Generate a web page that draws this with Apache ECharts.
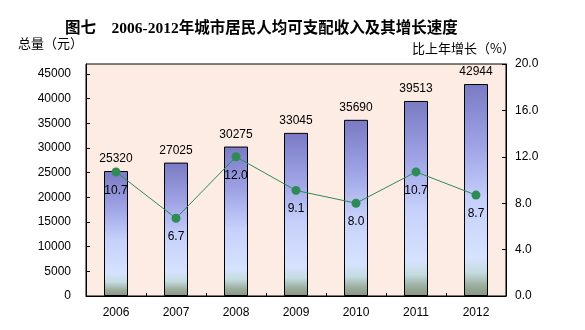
<!DOCTYPE html>
<html>
<head>
<meta charset="utf-8">
<style>
  html, body { margin: 0; padding: 0; background: #ffffff; }
  #chart { width: 585px; height: 330px; }
</style>
<script src="https://cdn.jsdelivr.net/npm/echarts@6/dist/echarts.min.js"></script>
</head>
<body>
<div id="chart"></div>
<script>
// Per-capita disposable income of urban residents, 2006-2012
const years = ['2006', '2007', '2008', '2009', '2010', '2011', '2012'];
const income = [25320, 27025, 30275, 33045, 35690, 39513, 42944];
const growth = [10.7, 6.7, 12.0, 9.1, 8.0, 10.7, 8.7];
const leftTicks = { min: 0, max: 47000, interval: 5000 };
const rightTicks = { min: 0, max: 20, interval: 4 };

const latin = '"Liberation Sans", Arial, "Noto Sans CJK SC", sans-serif';
const cjk = '"Noto Sans CJK SC", "Liberation Sans", sans-serif';

const chart = echarts.init(document.getElementById('chart'), null, { renderer: 'canvas' });

const barFill = new echarts.graphic.LinearGradient(0, 0, 0, 1, [
  { offset: 0.00, color: '#7a7ac4' },
  { offset: 0.30, color: '#a0a4e6' },
  { offset: 0.55, color: '#c6d0fa' },
  { offset: 0.82, color: '#d6e2ff' },
  { offset: 0.89, color: '#c4dce0' },
  { offset: 0.95, color: '#9cae9e' },
  { offset: 1.00, color: '#869682' }
]);

chart.setOption({
  animation: false,
  backgroundColor: '#ffffff',
  title: {
    text: '图七　2006-2012年城市居民人均可支配收入及其增长速度',
    left: 60,
    top: 16,
    textStyle: {
      fontFamily: '"Liberation Serif", "Noto Sans CJK SC", serif',
      fontWeight: 'bold',
      fontSize: 15.5,
      color: '#000000'
    }
  },
  graphic: [
    {
      type: 'text', left: 18, top: 37,
      style: { text: '总量（元）', font: '13px ' + cjk, fill: '#000000' }
    },
    {
      type: 'text', left: 412, top: 42,
      style: { text: '比上年增长（%）', font: '13px ' + cjk, fill: '#000000' }
    }
  ],
  grid: {
    left: 86, right: 79, top: 64, height: 232,
    show: true,
    backgroundColor: '#fdece3',
    borderColor: '#000000',
    borderWidth: 1,
    containLabel: false
  },
  xAxis: [
    {
      type: 'category',
      data: years,
      boundaryGap: true,
      axisLine: { show: true, lineStyle: { color: '#000000', width: 1 } },
      axisTick: { show: true, inside: true, length: 3, lineStyle: { color: '#000000' } },
      axisLabel: { color: '#000000', fontFamily: latin, fontSize: 12, margin: 11 },
      splitLine: { show: false }
    },
    {
      // centre ticks under each category
      type: 'category',
      data: years,
      position: 'bottom',
      boundaryGap: true,
      axisLine: { show: false },
      axisTick: { show: true, inside: true, length: 3, alignWithLabel: true, lineStyle: { color: '#000000' } },
      axisLabel: { show: false },
      splitLine: { show: false }
    }
  ],
  yAxis: [
    {
      type: 'value',
      min: leftTicks.min, max: leftTicks.max, interval: leftTicks.interval,
      axisLine: { show: true, lineStyle: { color: '#000000' } },
      axisTick: { show: true, inside: true, length: 4, lineStyle: { color: '#000000' } },
      axisLabel: {
        color: '#000000', fontFamily: latin, fontSize: 12, margin: 15, showMaxLabel: false,
        formatter: v => String(v)
      },
      splitLine: { show: false }
    },
    {
      type: 'value',
      position: 'right',
      min: rightTicks.min, max: rightTicks.max, interval: rightTicks.interval,
      axisLine: { show: true, lineStyle: { color: '#000000' } },
      axisTick: { show: true, inside: true, length: 4, lineStyle: { color: '#000000' } },
      axisLabel: {
        color: '#000000', fontFamily: latin, fontSize: 12, margin: 9,
        formatter: v => v.toFixed(1)
      },
      splitLine: { show: false }
    }
  ],
  series: [
    {
      name: '总量',
      type: 'bar',
      data: income,
      xAxisIndex: 0,
      yAxisIndex: 0,
      barWidth: 24,
      itemStyle: { color: barFill, borderColor: '#000000', borderWidth: 1 },
      label: {
        show: true, position: 'top', distance: 6,
        color: '#000000', fontFamily: latin, fontSize: 12
      },
      z: 2
    },
    {
      name: '增长',
      type: 'line',
      data: growth,
      xAxisIndex: 0,
      yAxisIndex: 1,
      symbol: 'circle',
      symbolSize: 9,
      lineStyle: { color: '#2e8b57', width: 1 },
      itemStyle: { color: '#2e8b57' },
      label: {
        show: true, position: 'bottom', distance: 8,
        color: '#000000', fontFamily: latin, fontSize: 12,
        formatter: p => p.value.toFixed(1)
      },
      z: 3
    }
  ]
});
</script>
</body>
</html>
